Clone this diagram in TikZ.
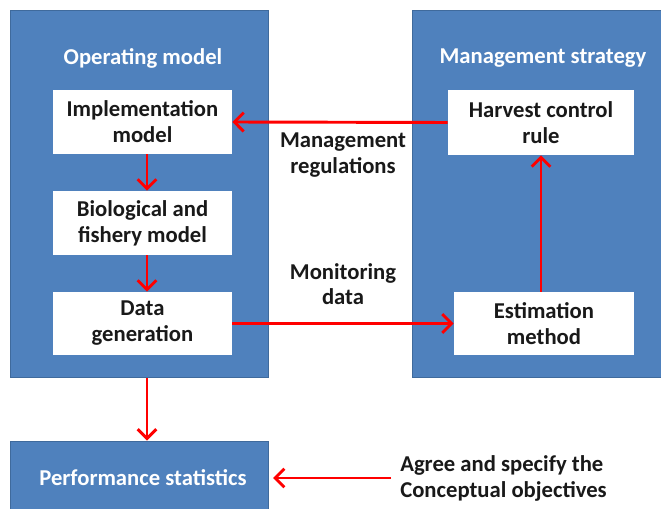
\documentclass[tikz,border=0pt]{standalone}
\usepackage{fontspec}
\setmainfont{Carlito}
\usetikzlibrary{arrows.meta,calc}
\definecolor{obl}{HTML}{4F81BD}
\definecolor{obd}{HTML}{3F6A9C}
\definecolor{ared}{HTML}{FF0000}
\tikzset{
  bigbox/.style={fill=obl,draw=obd,line width=0.6pt,inner sep=0pt},
  wbox/.style={fill=white,inner sep=0pt,align=center,font=\fontsize{17}{19.5}\selectfont\bfseries,text=black!90},
  ttl/.style={text=white,font=\fontsize{17}{19.5}\selectfont\bfseries,inner sep=0pt},
  lbl/.style={align=center,font=\fontsize{17}{19}\selectfont\bfseries,text=black!90,inner sep=0pt},
  arr/.style={draw=ared,line width=2.2pt,-{Straight Barb[length=7pt,width=14pt,line width=2.2pt]}}
}
\begin{document}
\begin{tikzpicture}[x=0.75pt,y=-0.75pt]
\useasboundingbox (0,0) rectangle (661,509);
\clip (0,0) rectangle (661,509);
\fill[white] (0,0) rectangle (661,509);
% big boxes
\node[bigbox,minimum width=258*0.75pt,minimum height=367*0.75pt] (om) at (139.5,194) {};
\node[bigbox,minimum width=258*0.75pt,minimum height=367*0.75pt] (ms) at (541,194) {};
\node[bigbox,minimum width=258*0.75pt,minimum height=80*0.75pt] (perf) at (139.5,481) {};
\node[ttl] (omt) at (143,58) {Operating model};
\node[ttl] (mst) at (543,58) {Management strategy};
\node[ttl] (perft) at (143,478) {Performance statistics};
% inner boxes
\node[wbox,minimum width=179*0.75pt,minimum height=64*0.75pt] (impl) at (142.5,122) {Implementation\\model};
\node[wbox,minimum width=179*0.75pt,minimum height=64*0.75pt] (bio) at (142.5,223) {Biological and\\fishery model};
\node[wbox,minimum width=179*0.75pt,minimum height=63*0.75pt] (data) at (142.5,323.5) {Data\\generation};
\node[wbox,minimum width=186*0.75pt,minimum height=65*0.75pt] (hcr) at (541,122.5) {Harvest control\\rule};
\node[wbox,minimum width=180*0.75pt,minimum height=63*0.75pt] (est) at (544,323.5) {Estimation\\method};
% labels
\node[lbl] (mr) at (343,155) {Management\\regulations};
\node[lbl] (md) at (343,284) {Monitoring\\data};
\node[lbl,align=left,anchor=west] (agree) at (400,478.5) {Agree and specify the\\Conceptual objectives};
\coordinate (agreeend) at (391,478);
% arrows
\draw[arr] (hcr.west) -- (impl.east);
\draw[arr] (data.east) -- (est.west);
\draw[arr] ($(est.north)+(-3,0)$) -- ($(hcr.south)+(0,0)$);
\draw[arr] ($(impl.south)+(4.5,0)$) -- ($(bio.north)+(4.5,0)$);
\draw[arr] ($(bio.south)+(4.5,0)$) -- ($(data.north)+(4.5,0)$);
\draw[arr] ($(om.south)+(7.5,0)$) -- ($(perf.north)+(7.5,0)$);
\draw[arr] (agreeend) -- (273,478);
\end{tikzpicture}
\end{document}
